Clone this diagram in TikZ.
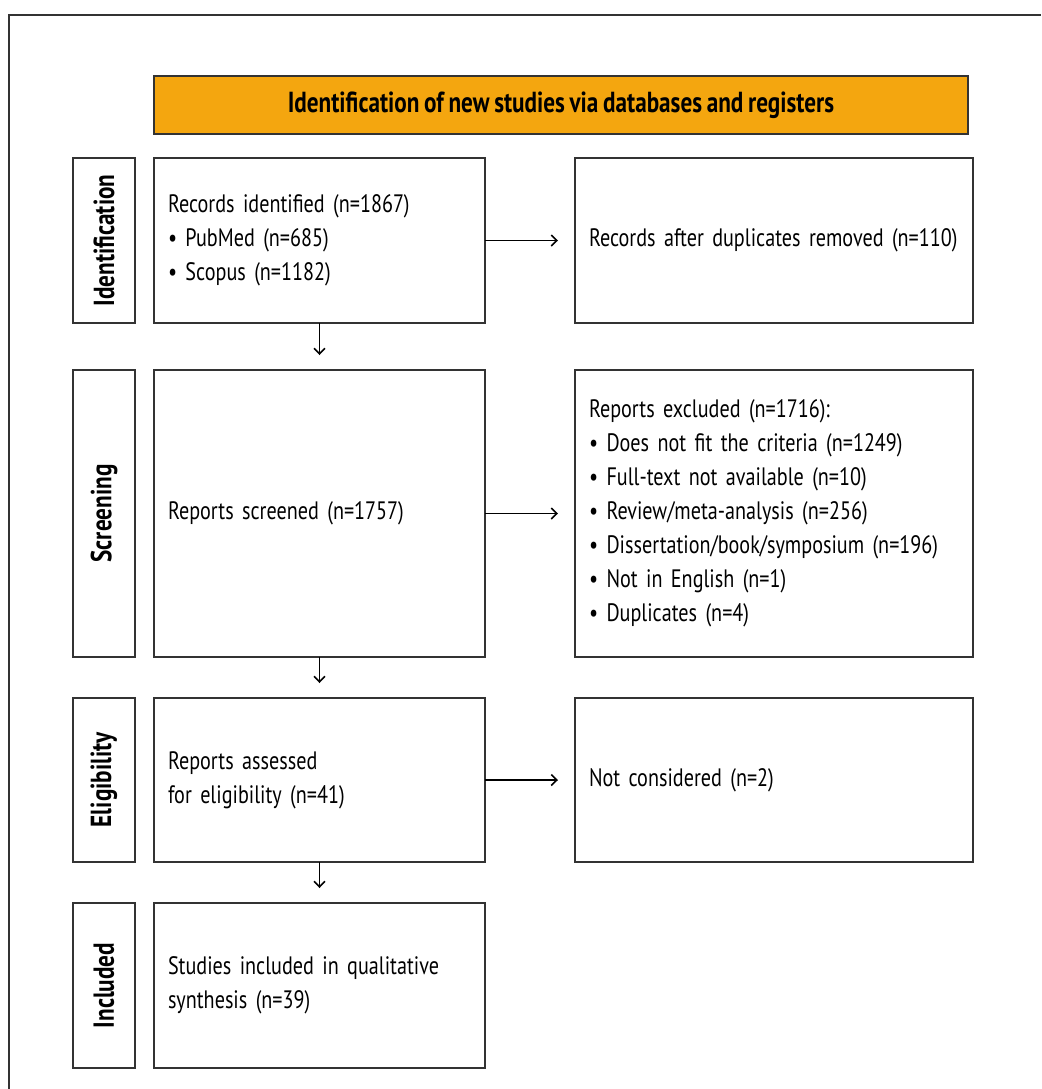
\documentclass[tikz,border=0pt]{standalone}
\usepackage{fontspec}
\setmainfont[FakeStretch=0.8,WordSpace=0.8]{PT Sans}
\usetikzlibrary{positioning,arrows.meta}
\definecolor{headorange}{HTML}{F4A60F}
\definecolor{boxline}{HTML}{333333}
\begin{document}
\begin{tikzpicture}[x=1pt,y=1pt]
        \tikzset{Box/.style={%
                draw=boxline,%
                line width=0.6pt,%
                inner sep=7pt,%
                outer sep=0pt,%
                align=left,%
                font=\fontsize{12.6}{17}\selectfont,%
            },
            Main/.style={Box, text width=151.5pt},
            Side/.style={Box, minimum width=31pt, inner sep=0pt, align=center,%
                font=\fontsize{14.5}{16}\selectfont\bfseries},
            Header/.style={Box, fill=headorange, minimum width=407pt, minimum height=29pt,%
                align=center, font=\fontsize{14.5}{16}\selectfont\bfseries},
            Arrow/.style={-{Straight Barb[length=2.8pt,width=5.5pt]}, line width=0.8pt},
        }
        \useasboundingbox (0,0) rectangle (520.5,-544.5);

        % outer frame
        \draw[boxline, line width=0.6pt] (4.5,-544.5) -- (4.5,-7.5) -- (520.5,-7.5);

        \node[Header, anchor=north west] (head) at (77,-38) {Identification of new studies via databases and registers};

        % left column
        \node[Main, minimum height=82.5pt, anchor=north west] (m1) at (77,-79)
            {Records identified (n=1867)\\ • PubMed (n=685)\\ • Scopus (n=1182)};
        \node[Main, minimum height=143.5pt, below=23.5pt of m1] (m2) {Reports screened (n=1757)};
        \node[Main, minimum height=82pt, below=20.5pt of m2] (m3) {Reports assessed\\ for eligibility (n=41)};
        \node[Main, minimum height=82.5pt, below=20.5pt of m3] (m4) {Studies included in qualitative\\ synthesis (n=39)};

        % right column
        \node[Box, text width=185pt, minimum height=82.5pt, right=45pt of m1] (r1) {Records after duplicates removed (n=110)};
        \node[Box, text width=185pt, minimum height=143.5pt, right=45pt of m2] (r2)
            {Reports excluded (n=1716):\\ • Does not fit the criteria (n=1249)\\ • Full-text not available (n=10)\\
             • Review/meta-analysis (n=256)\\ • Dissertation/book/symposium (n=196)\\ • Not in English (n=1)\\ • Duplicates (n=4)};
        \node[Box, text width=185pt, minimum height=82pt, right=45pt of m3] (r3) {Not considered (n=2)};

        % phases
        \node[Side, minimum height=82.5pt, left=9.5pt of m1] (s1) {\rotatebox{90}{Identification}};
        \node[Side, minimum height=143.5pt, left=9.5pt of m2] (s2) {\rotatebox{90}{Screening}};
        \node[Side, minimum height=82pt, left=9.5pt of m3] (s3) {\rotatebox{90}{Eligibility}};
        \node[Side, minimum height=82.5pt, left=9.5pt of m4] (s4) {\rotatebox{90}{Included}};

        \draw[Arrow] (m1.south) -- ([yshift=7.5pt]m2.north);
        \draw[Arrow] (m2.south) -- ([yshift=7.5pt]m3.north);
        \draw[Arrow] (m3.south) -- ([yshift=7.5pt]m4.north);
        \draw[Arrow] (m1.east) -- ([xshift=-8.5pt]r1.west);
        \draw[Arrow] (m2.east) -- ([xshift=-8.5pt]r2.west);
        \draw[Arrow] (m3.east) -- ([xshift=-8.5pt]r3.west);
\end{tikzpicture}
\end{document}
